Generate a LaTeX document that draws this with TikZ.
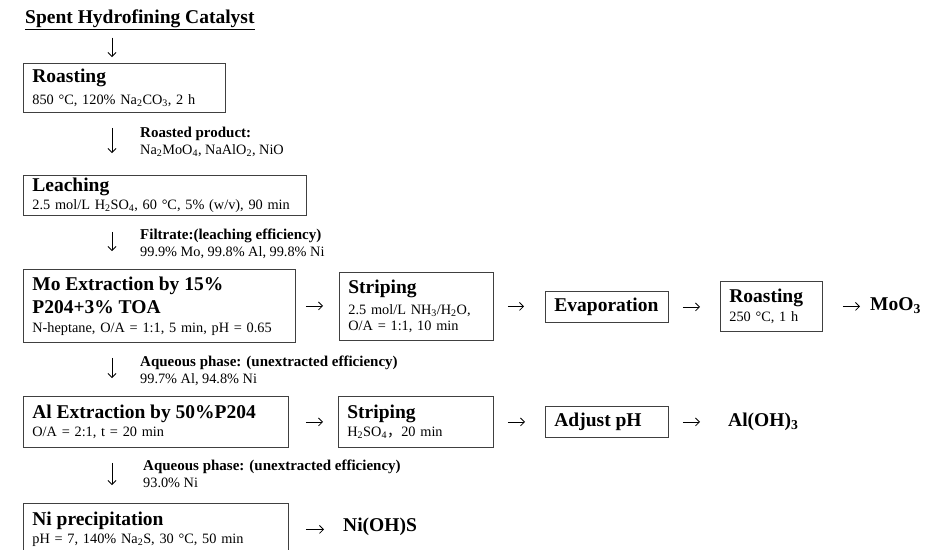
\documentclass[tikz,border=0pt]{standalone}
\usepackage{fontspec}
\setmainfont{Liberation Serif}
\newfontfamily\cjk{Noto Sans CJK SC}
\usetikzlibrary{positioning,arrows.meta}

\newcommand{\hd}{\fontsize{19.5}{22}\selectfont\bfseries}
\newcommand{\sm}{\fontsize{14.3}{17.5}\selectfont}
\newcommand{\lb}{\fontsize{15}{17.5}\selectfont\bfseries}
\newcommand{\sub}[1]{\textsubscript{#1}}

\tikzset{
    box/.style={draw=black!75, line width=0.8pt, anchor=north west, align=left,
        inner xsep=9pt, inner ysep=2pt, font=\sm},
    note/.style={anchor=north west, align=left, inner sep=0pt, font=\sm},
    prod/.style={anchor=west, inner sep=3pt, font=\hd},
    flow/.style={-{Straight Barb[length=4pt,width=8pt]}, line width=0.8pt},
    down/.style={flow, shorten <=15pt, shorten >=18pt}
}

\begin{document}
\begin{tikzpicture}[x=1pt,y=-1pt]
        \useasboundingbox (0,0) rectangle (936,549);

        %%%%%%%%%% Nodi %%%%%%%%%%
        \node[anchor=base west, inner sep=0pt, font=\hd] (feed) at (25,23) {\underline{Spent Hydrofining Catalyst}};
        \coordinate (ax) at (112,0);

        \node[box, text width=184pt, minimum height=49pt] (roast) at (23,63)
            {{\hd Roasting}\\[5pt]850 °C, 120\% Na\sub{2}CO\sub{3}, 2 h};
        \node[box, text width=265pt, minimum height=40pt] (leach) at (23,175)
            {{\hd Leaching}\\2.5 mol/L H\sub{2}SO\sub{4}, 60 °C, 5\% (w/v), 90 min};
        \node[box, text width=254pt, minimum height=73pt] (moext) at (23,269)
            {{\hd Mo Extraction by 15\%}\\[6pt]{\hd P204+3\% TOA}\\[1pt]N-heptane, O/A = 1:1, 5 min, pH = 0.65};
        \node[box, text width=136pt, minimum height=68pt] (strip1) at (339,272)
            {{\hd Striping}\\[3pt]2.5 mol/L NH\sub{3}/H\sub{2}O,\\[-1pt]O/A = 1:1, 10 min};
        \node[box, text width=105pt, minimum height=31pt] (evap) at (545,291)
            {{\hd Evaporation}};
        \node[box, text width=84pt, minimum height=50pt] (roast2) at (720,281)
            {{\hd Roasting}\\[2pt]250 °C, 1 h};
        \node[prod] (moo) at (867,306) {MoO\sub{3}};

        \node[box, text width=247pt, minimum height=51pt] (alext) at (23,396)
            {{\hd Al Extraction by 50\%P204}\\O/A = 2:1, t = 20 min};
        \node[box, text width=137pt, minimum height=51pt] (strip2) at (338,396)
            {{\hd Striping}\\H\sub{2}SO\sub{4}{\cjk ，}20 min};
        \node[box, text width=105pt, minimum height=31pt] (adjust) at (545,406)
            {{\hd Adjust pH}};
        \node[prod] (aloh) at (725,422) {Al(OH)\sub{3}};

        \node[box, text width=247pt, minimum height=52pt] (niprec) at (23,503)
            {{\hd Ni precipitation}\\pH = 7, 140\% Na\sub{2}S, 30 °C, 50 min};
        \node[prod] (nioh) at (340,527) {Ni(OH)S};

        %%%%%%%%%% Etichette %%%%%%%%%%
        \node[note] (rp) at (140,126.5) {{\lb Roasted product:}\\Na\sub{2}MoO\sub{4}, NaAlO\sub{2}, NiO};
        \node[note] (fl) at (140,228.5) {{\lb Filtrate:(leaching efficiency)}\\99.9\% Mo, 99.8\% Al, 99.8\% Ni};
        \node[note] (aq1) at (140,355.5) {{\lb Aqueous phase: (unextracted efficiency)}\\99.7\% Al, 94.8\% Ni};
        \node[note] (aq2) at (143,459.5) {{\lb Aqueous phase: (unextracted efficiency)}\\93.0\% Ni};

        %%%%%%%%% Frecce %%%%%%%%%
        \draw[down, shorten <=8pt, shorten >=6pt] (feed.south -| ax) -- (roast.north -| ax);
        \draw[down, shorten >=22pt] (roast.south -| ax) -- (leach.north -| ax);
        \draw[down, shorten <=16pt] (leach.south -| ax) -- (moext.north -| ax);
        \draw[down] (moext.south -| ax) -- (alext.north -| ax);
        \draw[down] (alext.south -| ax) -- (niprec.north -| ax);

        \draw[flow, shorten <=10pt, shorten >=16pt] (moext.east) -- (moext.east -| strip1.west);
        \draw[flow, shorten <=14pt, shorten >=21pt] (strip1.east) -- (strip1.east -| evap.west);
        \draw[flow, shorten <=14pt, shorten >=20pt] (evap.east) -- (evap.east -| roast2.west);
        \draw[flow, shorten <=20pt, shorten >=7pt] (roast2.east) -- (roast2.east -| moo.west);
        \draw[flow, shorten <=17pt, shorten >=15pt] (alext.east) -- (alext.east -| strip2.west);
        \draw[flow, shorten <=14pt, shorten >=20pt] (strip2.east) -- (strip2.east -| adjust.west);
        \draw[flow, shorten <=14pt, shorten >=25pt] (adjust.east) -- (adjust.east -| aloh.west);
        \draw[flow, shorten <=17pt, shorten >=16pt] (niprec.east) -- (niprec.east -| nioh.west);
    \end{tikzpicture}
\end{document}
